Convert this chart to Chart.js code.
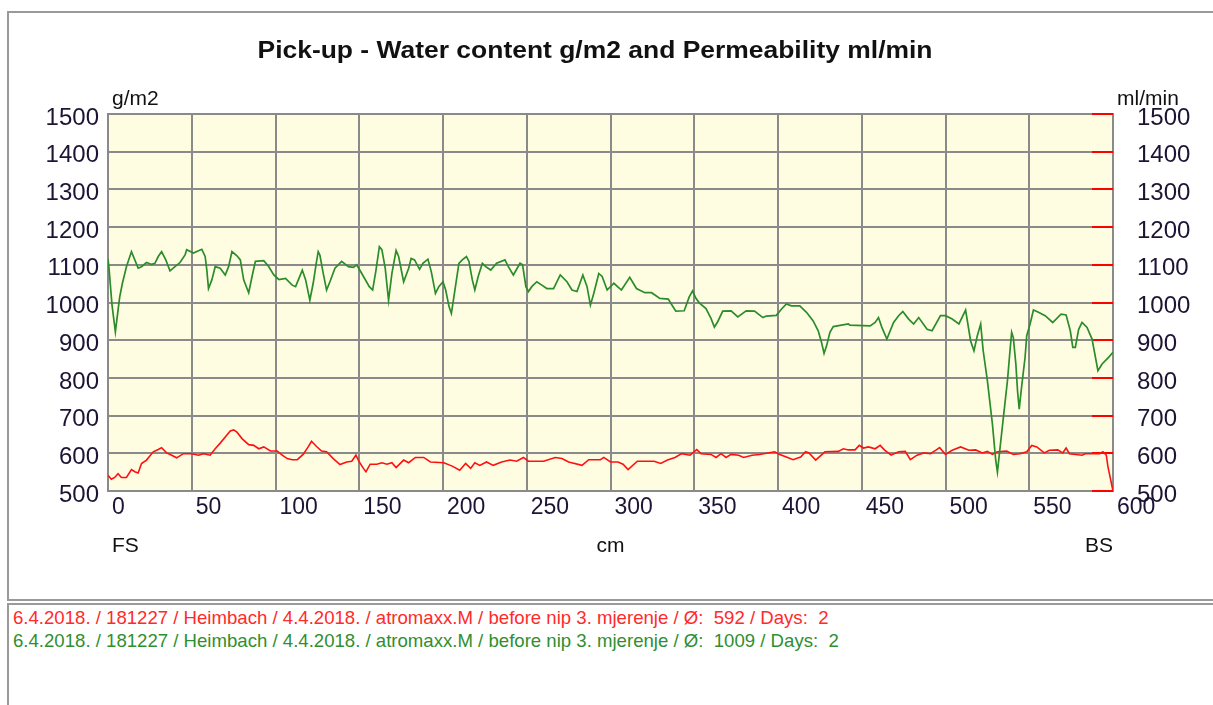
<!DOCTYPE html>
<html>
<head>
<meta charset="utf-8">
<script src="https://cdn.jsdelivr.net/npm/chart.js@4.4.1/dist/chart.umd.min.js"></script>
<style>
  html, body { margin:0; padding:0; background:#fff; width:1213px; height:705px; overflow:hidden; }
  #wrap { position:relative; width:1213px; height:705px; }
  #frameTop { position:absolute; left:7px; top:11px; width:1220px; height:586px; border:2px solid #9a9a9a; box-sizing:content-box; }
  #frameBottom { position:absolute; left:7px; top:603px; width:1220px; height:120px; border:2px solid #9a9a9a; }
  canvas { position:absolute; left:0; top:0; }
  .info { position:absolute; left:13px; font-family:"Liberation Sans", Arial, sans-serif; font-size:18.6px; white-space:pre; }
</style>
</head>
<body>
<div id="wrap">
  <div id="frameTop"></div>
  <div id="frameBottom"></div>
  <canvas id="c" width="1213" height="600"></canvas>
  <div class="info" id="infoRed" style="top:607px;color:#ff2a2a;"></div>
  <div class="info" id="infoGreen" style="top:630px;color:#2f8f2f;"></div>
</div>
<script>
// ---- data ----
const xTicks = [0,50,100,150,200,250,300,350,400,450,500,550,600];
const yTicks = [500,600,700,800,900,1000,1100,1200,1300,1400,1500];

const greenX = [0,0.6,2.4,4.4,6,7,8.6,11,14,18,20,23,26,28,30,32,34.5,37,40,43,46,47,51,56,58,59,60,62,64,67,70,72,74,77,79,81,84,86,88,93,96,99,102,106,110,112,114,116,118,120.5,122.5,124.5,125.5,126.5,128.5,130.5,132.5,135.5,139.5,143.5,146.5,148.5,151.5,156,158,160,162,163.5,165.5,167.5,169.5,172,173.5,176.5,179.5,181,183,186,188,191,193,195.5,197.5,200,201.6,203.6,205,206.5,209.5,211.5,214,215.5,217.5,219,221,223.5,225.5,228.5,232,237,239,242,246,247.5,249.5,251,253,256,259,262,266,270,274,277,280,283.5,286,288,290,293,295,298,302,306.5,311.5,315.5,320.5,324.5,329.5,334.5,336,339,344,347,349,351,353,357,360,362,364,367,372,376,381,386,391,393,399,402,405,408,413,417,421,424,426,427.5,429,431,433,442,443,455,458,460,462,465,469,472,474.5,478,481,484,489,492,497,500,504,508,512,515,517,519,521,522.5,525,528,530,531,532.5,535,537,538.5,539.5,540.5,542,543,544,545.5,547.5,548.5,550.5,552.5,555.5,559.5,564,569,572,574.5,576,577.5,579.5,581.5,584.5,587.5,591,593.5,597.5,600];
const greenY = [1115,1091,993,922,980,1015,1051,1095,1135,1091,1095,1106,1101,1104,1122,1135,1113,1084,1095,1106,1126,1140,1131,1141,1122,1086,1037,1060,1095,1091,1073,1095,1135,1124,1113,1060,1026,1069,1109,1111,1095,1073,1061,1064,1046,1042,1064,1086,1060,1006,1051,1109,1135,1126,1077,1033,1055,1091,1109,1095,1093,1100,1077,1042,1033,1086,1148,1140,1091,1006,1077,1138,1122,1055,1091,1117,1113,1088,1104,1115,1082,1024,1042,1055,1033,989,971,1015,1104,1113,1122,1109,1060,1033,1069,1104,1095,1086,1104,1113,1095,1073,1104,1100,1042,1029,1042,1055,1046,1037,1037,1073,1055,1033,1029,1073,1042,993,1024,1077,1069,1033,1051,1033,1067,1037,1026,1026,1011,1009,998,977,978,1015,1031,1011,999,984,958,935,949,977,978,962,978,977,960,964,966,982,996,991,991,974,951,925,894,865,885,921,936,943,940,938,947,960,934,903,947,965,976,956,943,960,929,925,965,965,956,943,980,898,872,912,943,872,793,678,581,550,612,713,793,872,921,907,837,766,717,779,854,912,943,980,974,965,947,969,967,925,881,881,929,947,934,903,819,837,855,868];

const redX = [0,2,4,6,8,11,14,16,18,20,23,27,30,32,35,38,41,45,50,54,57,61,64,67,70,73,75,77,80,84,87,90,93,97,101,104,107,110,113,116.5,119.5,121.5,124.5,127.5,130.5,134.5,138.5,142.5,145.5,148,150,152.5,154,156.5,160.5,163.5,166.5,169.5,172,176.5,179.5,183.5,188.5,192.5,200.5,205.5,210,213.5,216.5,219,222,226,230,235,240,244,248,251,260,267,271,275,283,287,294,296,300,304.5,307.5,310.5,316,326,330,334,338.5,342.5,347.5,351.5,354,360,363,366,369,372,376.5,379.5,384.5,389,398,401,405,409,413.5,416.5,418.5,422.5,428,436,439,442,446,448.5,451,454,458,461,463.5,467.5,472,476,479,483,487,491,494.5,496.5,500,504,509,514,518,522,525,528,531,536.5,540.5,544.5,548.5,551.5,554.5,559,562,567,570,572,574,581.5,583.5,592,594,596,597,600];
const redY = [542,531,536,546,536,536,557,551,548,573,582,604,610,615,601,595,588,599,599,595,599,595,612,627,643,659,662,656,639,623,621,612,617,606,606,595,586,583,583,597,617,632,618,606,604,586,570,577,579,595,577,560,551,571,571,575,571,575,562,582,575,589,589,577,575,566,555,573,560,575,568,577,568,577,582,579,589,579,579,589,586,577,568,583,583,589,577,577,571,557,579,579,573,582,589,599,595,610,599,597,589,599,589,597,595,589,595,597,604,597,590,583,590,604,601,582,604,605,612,609,609,621,614,617,612,621,609,595,604,605,583,595,601,599,609,615,597,608,617,608,609,601,605,597,604,606,597,599,604,621,617,601,608,609,601,614,599,595,599,599,604,595,564,500];

const titleText = "Pick-up - Water content g/m2 and Permeability ml/min";
const leftUnit = "g/m2";
const rightUnit = "ml/min";
const xUnit = "cm";
const xStartLabel = "FS";
const xEndLabel = "BS";
const infoRed = "6.4.2018. / 181227 / Heimbach / 4.4.2018. / atromaxx.M / before nip 3. mjerenje / Ø:  592 / Days:  2";
const infoGreen = "6.4.2018. / 181227 / Heimbach / 4.4.2018. / atromaxx.M / before nip 3. mjerenje / Ø:  1009 / Days:  2";

document.getElementById('infoRed').textContent = infoRed;
document.getElementById('infoGreen').textContent = infoGreen;

const FONT = '"Liberation Sans", Arial, sans-serif';
const TICK_COLOR = '#1d1434';
const GRID = '#8a8a8a';

const decor = {
  id: 'decor',
  beforeDraw(chart) {
    const {ctx, chartArea: a} = chart;
    ctx.save();
    ctx.fillStyle = '#fffde1';
    ctx.fillRect(a.left, a.top, a.right - a.left, a.bottom - a.top);
    ctx.restore();
  },
  beforeDatasetsDraw(chart) {
    const {ctx, chartArea: a} = chart;
    const s = chart.scales.y1;
    ctx.save();
    ctx.strokeStyle = '#ff0000';
    ctx.lineWidth = 2;
    s.ticks.forEach(t => {
      const y = Math.round(s.getPixelForValue(t.value));
      ctx.beginPath();
      ctx.moveTo(a.right - 21, y);
      ctx.lineTo(a.right, y);
      ctx.stroke();
    });
    ctx.restore();
  },
  afterDraw(chart) {
    const {ctx, chartArea: a} = chart;
    ctx.save();
    ctx.fillStyle = '#111';
    ctx.textBaseline = 'alphabetic';
    // title, fitted to the reference width
    ctx.font = 'bold 23px ' + FONT;
    const w = ctx.measureText(titleText).width;
    const sx = 675 / w;
    ctx.save();
    ctx.translate(595, 58);
    ctx.scale(sx, 1);
    ctx.textAlign = 'center';
    ctx.fillText(titleText, 0, 0);
    ctx.restore();
    ctx.font = '21px ' + FONT;
    ctx.textAlign = 'left';
    ctx.fillText(leftUnit, a.left + 4, a.top - 9);
    ctx.fillText(rightUnit, a.right + 4, a.top - 9);
    ctx.fillText(xStartLabel, a.left + 4, a.bottom + 61);
    ctx.textAlign = 'center';
    ctx.fillText(xUnit, (a.left + a.right) / 2, a.bottom + 61);
    ctx.textAlign = 'right';
    ctx.fillText(xEndLabel, a.right, a.bottom + 61);
    ctx.restore();
  }
};

const plain = v => String(v);

new Chart(document.getElementById('c'), {
  type: 'line',
  data: {
    datasets: [
      {
        label: 'Water content g/m2',
        data: greenX.map((x, i) => ({x, y: greenY[i]})),
        borderColor: '#2a8c2a',
        borderWidth: 1.7,
        pointRadius: 0,
        tension: 0,
        yAxisID: 'y'
      },
      {
        label: 'Permeability ml/min',
        data: redX.map((x, i) => ({x, y: redY[i]})),
        borderColor: '#ff1010',
        borderWidth: 1.6,
        pointRadius: 0,
        tension: 0,
        yAxisID: 'y1'
      }
    ]
  },
  options: {
    responsive: false,
    animation: false,
    devicePixelRatio: 1,
    layout: { padding: { top: 114, left: 0, right: 0, bottom: 69 } },
    plugins: { legend: { display: false }, title: { display: false }, tooltip: { enabled: false } },
    scales: {
      x: {
        type: 'linear',
        min: xTicks[0], max: xTicks[xTicks.length - 1],
        afterBuildTicks: s => { s.ticks = xTicks.map(v => ({value: v})); },
        afterFit: s => { s.height = 40; },
        grid: { color: GRID, lineWidth: 2, drawTicks: false },
        border: { display: true, color: GRID, width: 2 },
        ticks: { autoSkip: false, maxRotation: 0, align: 'start', labelOffset: 4, padding: 3,
                 callback: plain, color: TICK_COLOR, font: { family: FONT, size: 23 } }
      },
      y: {
        position: 'left',
        min: yTicks[0], max: yTicks[yTicks.length - 1],
        afterBuildTicks: s => { s.ticks = yTicks.map(v => ({value: v})); },
        afterFit: s => { s.width = 108; },
        grid: { color: GRID, lineWidth: 2, drawTicks: false },
        border: { display: true, color: GRID, width: 2 },
        ticks: { labelOffset: 4, padding: 9, callback: plain, color: TICK_COLOR, font: { family: FONT, size: 24 } }
      },
      y1: {
        position: 'right',
        min: yTicks[0], max: yTicks[yTicks.length - 1],
        afterBuildTicks: s => { s.ticks = yTicks.map(v => ({value: v})); },
        afterFit: s => { s.width = 100; },
        grid: { drawOnChartArea: false, drawTicks: false },
        border: { display: true, color: GRID, width: 2 },
        ticks: { labelOffset: 4, padding: 24, callback: plain, color: TICK_COLOR, font: { family: FONT, size: 24 } }
      }
    }
  },
  plugins: [decor]
});
</script>
</body>
</html>
